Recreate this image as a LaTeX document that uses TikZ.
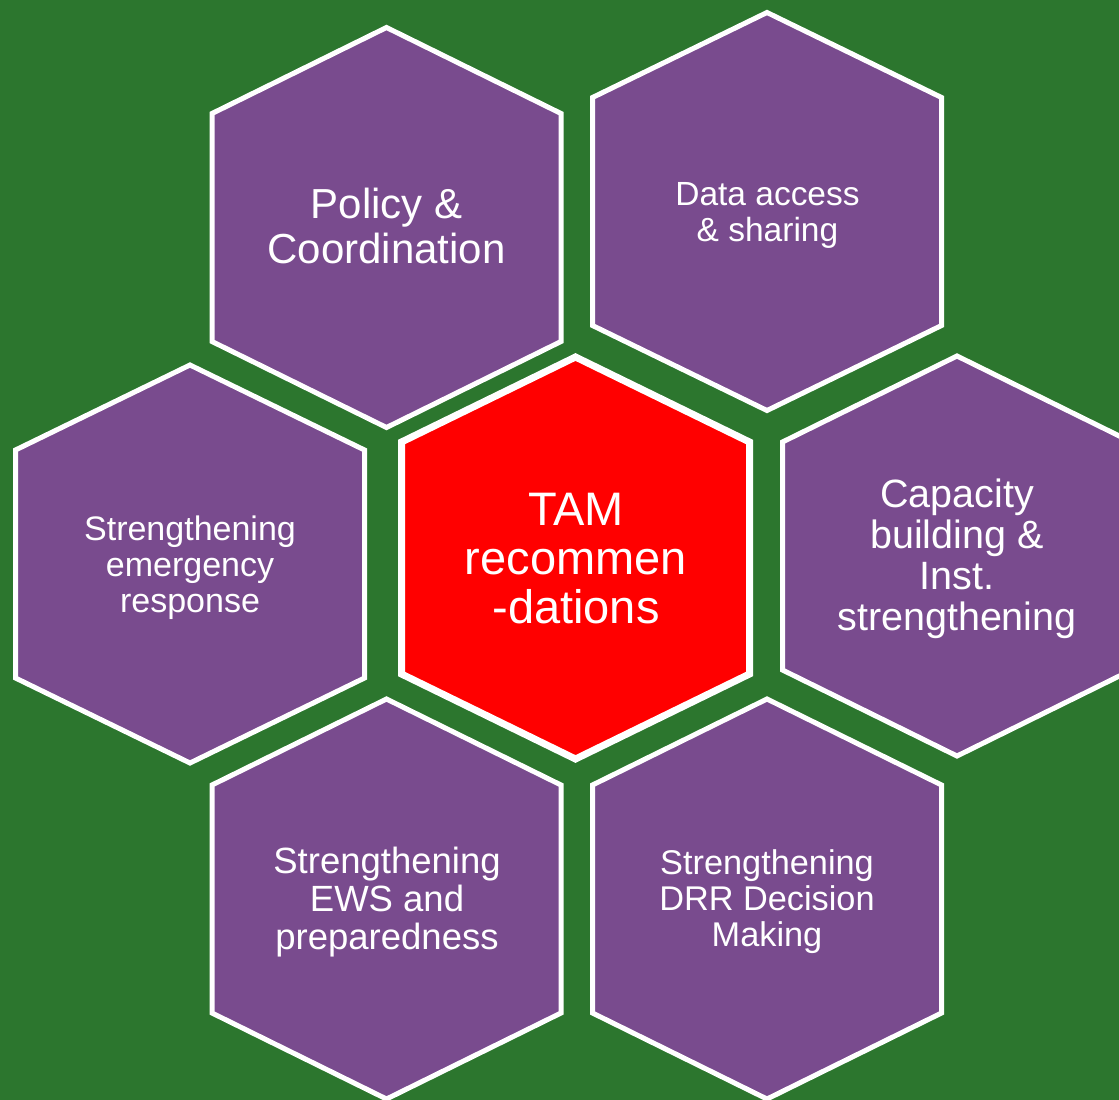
\documentclass[tikz,border=0pt]{standalone}
\usepackage{fontspec}
\setmainfont{Liberation Sans}
\definecolor{bggreen}{RGB}{44,118,46}
\definecolor{hexpurple}{RGB}{121,75,142}
\definecolor{hexred}{RGB}{255,0,0}
\newcommand{\hexagonpath}[5]{({#1},{#2-#4}) -- ({#1+#3},{#2-#5}) -- ({#1+#3},{#2+#5}) -- ({#1},{#2+#4}) -- ({#1-#3},{#2+#5}) -- ({#1-#3},{#2-#5}) -- cycle}
\begin{document}
\begin{tikzpicture}[x=1pt,y=-1pt,
  hexcell/.style={draw=white, line width=5pt, fill=hexpurple, line join=miter},
  hexcore/.style={draw=white, line width=7pt, fill=hexred, line join=miter},
  hextext/.style={text=white, align=center, inner sep=0pt, anchor=center}]
\useasboundingbox (0,0) rectangle (1119,1100);
\fill[bggreen] (0,0) rectangle (1119,1100);
\clip (0,0) rectangle (1119,1100);
% hexagons
\path[hexcell] \hexagonpath{386.5}{227.5}{174.5}{200}{114};
\path[hexcell] \hexagonpath{767}{211.5}{174.5}{199}{114};
\path[hexcell] \hexagonpath{190}{564}{174.5}{199}{114};
\path[hexcell] \hexagonpath{957}{556}{174.5}{200}{114};
\path[hexcell] \hexagonpath{386.5}{899}{174.5}{200}{114};
\path[hexcell] \hexagonpath{767}{899}{174.5}{200}{114};
\path[hexcore] \hexagonpath{575.5}{558}{174}{201}{116};
% texts
\node[hextext, font=\fontsize{42}{45}\selectfont] (policy) at (386.5,226) {Policy \&\\Coordination};
\node[hextext, font=\fontsize{33.5}{36}\selectfont] (data) at (767.5,215.5) {Data access\\\& sharing};
\node[hextext, font=\fontsize{34}{36}\selectfont] (emergency) at (190,568) {Strengthening\\emergency\\response};
\node[hextext, font=\fontsize{47}{49}\selectfont] (tam) at (576,558.5) {TAM\\recommen\\-dations};
\node[hextext, font=\fontsize{39.5}{41}\selectfont] (capacity) at (957,558.5) {Capacity\\building \&\\Inst.\\strengthening};
\node[hextext, font=\fontsize{36.5}{37.6}\selectfont] (ews) at (387,902) {Strengthening\\EWS and\\preparedness};
\node[hextext, font=\fontsize{34.3}{36}\selectfont] (drr) at (767,902) {Strengthening\\DRR Decision\\Making};
\end{tikzpicture}
\end{document}
